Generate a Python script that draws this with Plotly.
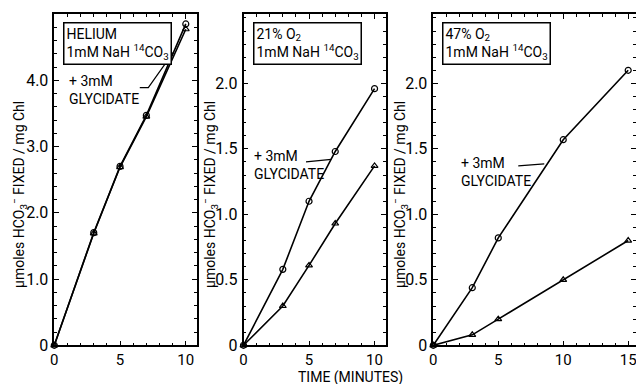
import plotly.graph_objects as go

# ---- data ----
t_a = [0, 3, 5, 7, 10]
he_glyc = [0, 1.70, 2.70, 3.47, 4.85]
he_ctrl = [0, 1.69, 2.69, 3.45, 4.77]

t_b = [0, 3, 5, 7, 10]
o21_glyc = [0, 0.58, 1.10, 1.48, 1.96]
o21_ctrl = [0, 0.30, 0.61, 0.93, 1.37]

t_c = [0, 3, 5, 10, 15]
o47_glyc = [0, 0.44, 0.82, 1.57, 2.10]
o47_ctrl = [0, 0.08, 0.20, 0.50, 0.80]

panel_titles = ["HELIUM", "21% O<sub>2</sub>", "47% O<sub>2</sub>"]
x_ticks_ab = [0, 5, 10]
x_ticks_c = [0, 5, 10, 15]
y_ticks_a = [0, 1, 2, 3, 4]
y_ticklabels_a = ["0", "1.0", "2.0", "3.0", "4.0"]
y_ticks_bc = [0, 0.5, 1.0, 1.5, 2.0]
y_ticklabels_bc = ["0", "0.5", "1.0", "1.5", "2.0"]

FONT = "Roboto"
W, H = 636, 384

fig = go.Figure()

series = [
    (t_a, he_glyc, he_ctrl, "x", "y"),
    (t_b, o21_glyc, o21_ctrl, "x2", "y2"),
    (t_c, o47_glyc, o47_ctrl, "x3", "y3"),
]
for t, g, c, xa, ya in series:
    fig.add_trace(go.Scatter(x=t, y=c, xaxis=xa, yaxis=ya, mode="lines+markers",
                             line=dict(color="black", width=1.6),
                             marker=dict(symbol="triangle-up-open", size=6, color="black",
                                         line=dict(width=1.2)),
                             showlegend=False, cliponaxis=False))
    fig.add_trace(go.Scatter(x=t, y=g, xaxis=xa, yaxis=ya, mode="lines+markers",
                             line=dict(color="black", width=1.6),
                             marker=dict(symbol="circle-open", size=6, color="black",
                                         line=dict(width=1.2)),
                             showlegend=False, cliponaxis=False))

# pixel layout
px_left = [54.3, 243.5, 433.3]
px_right = [196.7, 385.7, 636]
py_top, py_bot = 14, 345.3
ydom = [1 - py_bot / H, 1 - py_top / H]

axcommon = dict(showline=True, linecolor="black", linewidth=1.5, mirror="allticks",
                ticks="inside", ticklen=5, tickwidth=1.2, tickcolor="black",
                showgrid=False, zeroline=False, automargin=False,
                ticklabeloverflow="allow")

xranges = [[0, 10.83], [0, 10.85], [0, 15.6]]
xticks = [x_ticks_ab, x_ticks_ab, x_ticks_c]
yranges = [[0, 5.0], [0, 2.53], [0, 2.53]]
yticks = [(y_ticks_a, y_ticklabels_a), (y_ticks_bc, y_ticklabels_bc), (y_ticks_bc, y_ticklabels_bc)]
yminor = [0.2, 0.1, 0.1]

for i in range(3):
    sfx = "" if i == 0 else str(i + 1)
    fig.update_layout(**{
        "xaxis" + sfx: dict(axcommon, domain=[px_left[i] / W, px_right[i] / W],
                            range=xranges[i], tickvals=xticks[i],
                            anchor="y" + sfx, ticklabelstandoff=0,
                            tickfont=dict(family=FONT, size=15, color="black"),
                            minor=dict(dtick=1, ticks="inside", ticklen=3, tickcolor="black")),
        "yaxis" + sfx: dict(axcommon, domain=ydom, range=yranges[i],
                            tickvals=yticks[i][0], ticktext=yticks[i][1],
                            anchor="x" + sfx, ticklabelstandoff=1,
                            tickfont=dict(family=FONT, size=16, color="black"),
                            minor=dict(dtick=yminor[i], ticks="inside", ticklen=3, tickcolor="black")),
    })

annotations = []
# condition boxes
box_x = [0.063, 0.069, 0.044]
for i in range(3):
    sfx = "" if i == 0 else str(i + 1)
    annotations.append(dict(
        xref=f"x{sfx} domain", yref=f"y{sfx} domain", x=box_x[i], y=0.977,
        xanchor="left", yanchor="top", align="left", showarrow=False,
        text=panel_titles[i] + "<br>1mM NaH <sup>14</sup>CO<sub>3</sub>",
        font=dict(family=FONT, size=14, color="black"),
        bordercolor="black", borderwidth=1.5, borderpad=2, bgcolor="white"))

# glycidate labels
glyc_pos = [(0.087, 0.828), (0.058, 0.602), (0.127, 0.581)]
for i in range(3):
    sfx = "" if i == 0 else str(i + 1)
    annotations.append(dict(
        xref=f"x{sfx} domain", yref=f"y{sfx} domain", x=glyc_pos[i][0], y=glyc_pos[i][1],
        xanchor="left", yanchor="top", align="left", showarrow=False,
        text="+ 3mM<br>GLYCIDATE", font=dict(family=FONT, size=14, color="black")))

# y axis titles
ytitle = "\u03bcmoles HCO<sub>3</sub><sup>\u2212</sup> FIXED / mg Chl"
for xp in [19, 210, 400]:
    annotations.append(dict(xref="paper", yref="paper", x=xp / W, y=1 - 195 / H,
                            xanchor="center", yanchor="middle", textangle=-90, showarrow=False,
                            text=ytitle, font=dict(family=FONT, size=14, color="black")))
# x axis title
annotations.append(dict(xref="paper", yref="paper", x=350 / W, y=1 - 377 / H,
                        xanchor="center", yanchor="middle", showarrow=False,
                        text="TIME (MINUTES)", font=dict(family=FONT, size=14, color="black")))

# leader lines
shapes = [
    dict(type="path", xref="x", yref="y", path="M 6.5,3.89 L 7.15,3.89 L 9.05,4.42",
         line=dict(color="black", width=1.2)),
    dict(type="line", xref="x2", yref="y2", x0=4.77, y0=1.40, x1=6.7, y1=1.42,
         line=dict(color="black", width=1.2)),
    dict(type="line", xref="x3", yref="y3", x0=6.54, y0=1.37, x1=8.54, y1=1.385,
         line=dict(color="black", width=1.2)),
]

fig.update_layout(width=W, height=H, margin=dict(l=0, r=0, t=0, b=0),
                  paper_bgcolor="white", plot_bgcolor="white",
                  annotations=annotations, shapes=shapes,
                  font=dict(family=FONT, color="black"))

fig.write_html("out.html", config={"displayModeBar": False},
               post_script="document.body.style.margin='0';document.body.style.overflow='hidden';")
